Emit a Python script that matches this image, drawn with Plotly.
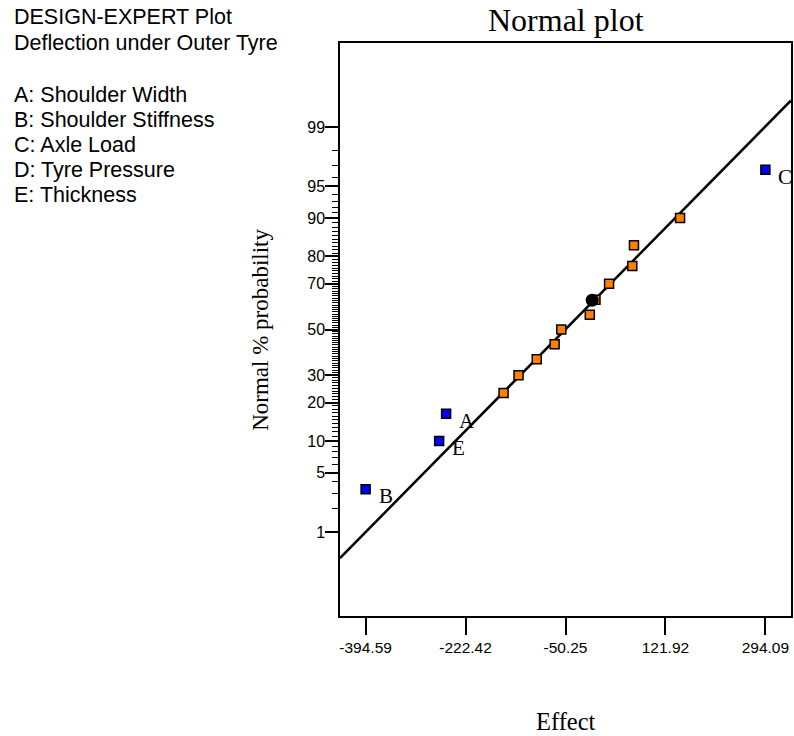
import plotly.graph_objects as go
from statistics import NormalDist

nd = NormalDist()

# ---- data ----
effect_names = ["B", "E", "A", "", "", "", "", "", "", "", "", "", "", "", "C"]
effect_values = [-394.59, -267.9, -255.9, -156.9, -131.2, -99.8, -69.0, -57.5,
                 -8.4, 1.4, 24.8, 64.8, 67.7, 147.1, 294.09]
normal_pct = [3.33, 10.0, 16.67, 23.33, 30.0, 36.67, 43.33, 50.0,
              56.67, 63.33, 70.0, 76.67, 83.33, 90.0, 96.67]
is_selected = [True, True, True, False, False, False, False, False,
               False, False, False, False, False, False, True]

center_pt_x = [-4.3]
center_pt_pct = [63.2]

fit_center = -50.6      # effect where line crosses 50 %
fit_sigma = 147.8       # effect units per normal z unit

x_tick_vals = [-394.59, -222.42, -50.25, 121.92, 294.09]
x_tick_text = ["-394.59", "-222.42", "-50.25", "121.92", "294.09"]
x_range = [-438.7, 338.2]

y_tick_pct = [1, 5, 10, 20, 30, 50, 70, 80, 90, 95, 99]
y_minor_pct = list(range(1, 100))
y_range_pct = [0.05, 99.95]

header_lines = ["DESIGN-EXPERT Plot", "Deflection under Outer Tyre", "",
                "A: Shoulder Width", "B: Shoulder Stiffness", "C: Axle Load",
                "D: Tyre Pressure", "E: Thickness"]

# ---- helpers ----
def z(p):
    return nd.inv_cdf(p / 100.0)

SANS = "Liberation Sans, Arial, sans-serif"
SERIF = "Liberation Serif, Times New Roman, serif"

FIG_W, FIG_H = 794, 736
L, R, T, B = 340, 793, 43, 616
W, H = R - L, B - T

def px_x(px):
    return (px - L) / W

def px_y(py):
    return (B - py) / H

fig = go.Figure()

# fitted normal line
line_x = x_range
line_z = [(v - fit_center) / fit_sigma for v in line_x]
fig.add_trace(go.Scatter(x=line_x, y=line_z, mode="lines",
                         line=dict(color="black", width=2.5),
                         hoverinfo="skip", showlegend=False, cliponaxis=True))

# points
orange_x = [v for v, s in zip(effect_values, is_selected) if not s]
orange_z = [z(p) for p, s in zip(normal_pct, is_selected) if not s]
blue_x = [v for v, s in zip(effect_values, is_selected) if s]
blue_z = [z(p) for p, s in zip(normal_pct, is_selected) if s]

fig.add_trace(go.Scatter(x=orange_x, y=orange_z, mode="markers",
                         marker=dict(symbol="square", size=9, color="#FF8000",
                                     line=dict(color="black", width=1.5)),
                         showlegend=False))
fig.add_trace(go.Scatter(x=center_pt_x, y=[z(p) for p in center_pt_pct], mode="markers",
                         marker=dict(symbol="circle", size=13, color="black"),
                         showlegend=False))
fig.add_trace(go.Scatter(x=blue_x, y=blue_z, mode="markers",
                         marker=dict(symbol="square", size=9, color="#0000FF",
                                     line=dict(color="black", width=1.5)),
                         showlegend=False, cliponaxis=False))

annotations = []
# point labels
for name, v, p in zip(effect_names, effect_values, normal_pct):
    if name:
        annotations.append(dict(x=v, y=z(p), xref="x", yref="y", text=name,
                                showarrow=False, xanchor="left", yanchor="middle",
                                xshift=11, yshift=-7,
                                font=dict(family=SERIF, size=21, color="black")))

# header text
line_y = [17, 43, None, 95, 120, 145, 170, 195]
for txt, yy in zip(header_lines, line_y):
    if txt:
        annotations.append(dict(x=px_x(11), y=px_y(yy), xref="paper", yref="paper",
                                text=txt, showarrow=False, xanchor="left",
                                yanchor="middle",
                                font=dict(family=SANS, size=21.5, color="black")))

# title
annotations.append(dict(x=0.5, y=px_y(20), xref="paper", yref="paper",
                        text="Normal plot", showarrow=False, xanchor="center",
                        yanchor="middle",
                        font=dict(family=SERIF, size=32, color="black")))
# axis titles
annotations.append(dict(x=px_x(260), y=0.5, xref="paper", yref="paper",
                        text="Normal % probability", showarrow=False, textangle=-90,
                        xanchor="center", yanchor="middle",
                        font=dict(family=SERIF, size=23, color="black")))
annotations.append(dict(x=0.5, y=px_y(721), xref="paper", yref="paper",
                        text="Effect", showarrow=False, xanchor="center",
                        yanchor="middle",
                        font=dict(family=SERIF, size=24.5, color="black")))

fig.update_layout(
    width=FIG_W, height=FIG_H,
    margin=dict(l=L, r=FIG_W - R, t=T, b=FIG_H - B, pad=0),
    paper_bgcolor="white", plot_bgcolor="white",
    showlegend=False,
    annotations=annotations,
    xaxis=dict(range=x_range, tickmode="array", tickvals=x_tick_vals,
               ticktext=x_tick_text, ticks="outside", ticklen=17, tickwidth=1.5,
               tickcolor="black", showline=True, linecolor="black", linewidth=1.5,
               mirror=True, showgrid=False, zeroline=False,
               tickfont=dict(family=SANS, size=15.5, color="black")),
    yaxis=dict(range=[z(p) for p in y_range_pct], tickmode="array",
               tickvals=[z(p) for p in y_tick_pct],
               ticktext=[str(p) for p in y_tick_pct],
               ticks="outside", ticklen=13, tickwidth=1.5, tickcolor="black",
               ticklabelstandoff=-3,
               minor=dict(tickmode="array", tickvals=[z(p) for p in y_minor_pct],
                          ticks="outside", ticklen=6, tickwidth=1, tickcolor="black",
                          showgrid=False),
               showline=True, linecolor="black", linewidth=1.5, mirror=True,
               showgrid=False, zeroline=False,
               tickfont=dict(family=SANS, size=16, color="black")),
)

fig.write_html(
    "out.html",
    config={"displayModeBar": False},
    post_script="document.body.style.margin='0';"
                "document.body.style.overflow='hidden';",
)
